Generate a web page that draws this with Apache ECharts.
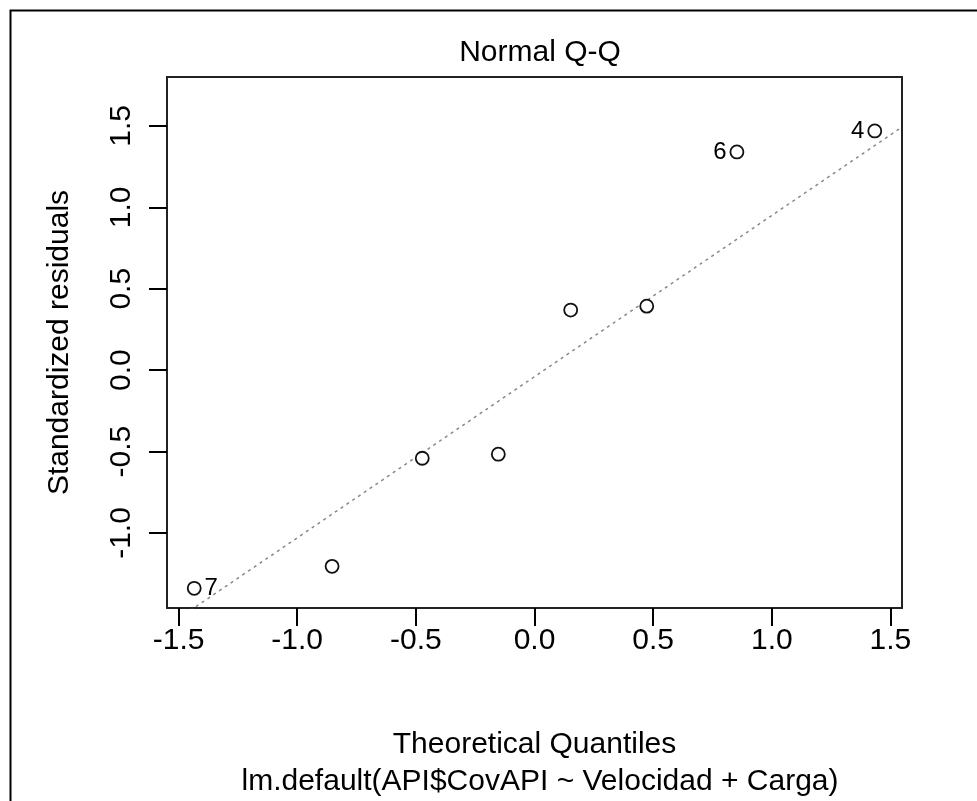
<!DOCTYPE html>
<html>
<head>
<meta charset="utf-8">
<title>Normal Q-Q</title>
<script src="https://cdn.jsdelivr.net/npm/echarts@6/dist/echarts.min.js"></script>
<style>
  html, body { margin: 0; padding: 0; background: #fff; }
  #chart { width: 977px; height: 801px; }
</style>
</head>
<body>
<div id="chart"></div>
<script>
// theoretical quantiles (qnorm(ppoints(8)))
const theoQuantiles = [-1.434, -0.853, -0.473, -0.1525, 0.1525, 0.473, 0.853, 1.434];
// standardized residuals, sorted
const stdResiduals = [-1.340, -1.205, -0.541, -0.516, 0.369, 0.393, 1.340, 1.469];
// observation ids shown next to the extreme points
const pointIds = ['7', '', '', '', '', '', '6', '4'];
// tick labels
const xTicks = [-1.5, -1.0, -0.5, 0.0, 0.5, 1.0, 1.5];
const yTicks = [-1.0, -0.5, 0.0, 0.5, 1.0, 1.5];
// qqline (through the quartiles)
const qqSlope = 0.99;
const qqIntercept = -0.04;

const FONT = '"Liberation Sans", Arial, sans-serif';

// R style axis limits: 4% padding, plot.lm adds 7.5% on top for labels
function rRange(vals, extraTop) {
  let lo = Math.min(...vals), hi = Math.max(...vals);
  hi += (hi - lo) * extraTop;
  const pad = (hi - lo) * 0.04;
  return [lo - pad, hi + pad];
}
const xr = rRange(theoQuantiles, 0);
const yr = rRange(stdResiduals, 0.075);

const points = theoQuantiles.map((x, i) => {
  const p = { value: [x, stdResiduals[i]] };
  if (pointIds[i]) {
    p.label = {
      show: true,
      formatter: pointIds[i],
      position: i === 0 ? 'right' : 'left',
      distance: 3
    };
  }
  return p;
});

const chart = echarts.init(document.getElementById('chart'));

chart.setOption({
  backgroundColor: '#fff',
  animation: false,
  title: [
    {
      text: 'Normal Q-Q',
      left: 535, top: 33, textAlign: 'center',
      textStyle: { fontFamily: FONT, fontWeight: 'normal', fontSize: 30, color: '#000' }
    },
    {
      text: 'lm.default(API$CovAPI ~ Velocidad + Carga)',
      left: 535, top: 762, textAlign: 'center',
      textStyle: { fontFamily: FONT, fontWeight: 'normal', fontSize: 30, color: '#000' }
    }
  ],
  graphic: [
    {
      type: 'rect',
      left: 8, top: 8,
      shape: { width: 1100, height: 1000 },
      style: { fill: 'none', stroke: '#000', lineWidth: 2 },
      silent: true
    }
  ],
  grid: {
    left: 167, right: 75, top: 77, bottom: 193,
    show: true, borderColor: '#222', borderWidth: 2, backgroundColor: 'transparent'
  },
  xAxis: {
    type: 'value',
    min: xr[0], max: xr[1],
    name: 'Theoretical Quantiles',
    nameLocation: 'middle',
    nameGap: 122,
    nameTextStyle: { fontFamily: FONT, fontSize: 30, color: '#000' },
    splitLine: { show: false },
    axisLine: { show: false, onZero: false },
    axisTick: {
      show: true, length: 18, customValues: xTicks,
      lineStyle: { color: '#000', width: 2 }
    },
    axisLabel: {
      customValues: xTicks, margin: 18,
      formatter: v => v.toFixed(1),
      fontFamily: FONT, fontSize: 30, color: '#000'
    }
  },
  yAxis: {
    type: 'value',
    min: yr[0], max: yr[1],
    name: 'Standardized residuals',
    nameLocation: 'middle',
    nameRotate: 90,
    nameGap: 92,
    nameTextStyle: { fontFamily: FONT, fontSize: 30, color: '#000' },
    splitLine: { show: false },
    axisLine: { show: false, onZero: false },
    axisTick: {
      show: true, length: 18, customValues: yTicks,
      lineStyle: { color: '#000', width: 2 }
    },
    axisLabel: {
      customValues: yTicks, margin: 30, rotate: 90,
      formatter: v => v.toFixed(1),
      fontFamily: FONT, fontSize: 30, color: '#000'
    }
  },
  series: [
    {
      type: 'line',
      data: [
        [xr[0], qqIntercept + qqSlope * xr[0]],
        [xr[1], qqIntercept + qqSlope * xr[1]]
      ],
      showSymbol: false,
      clip: true,
      lineStyle: { color: '#888', width: 1.5, type: [3, 4] },
      silent: true,
      z: 1
    },
    {
      type: 'scatter',
      data: points,
      symbol: 'circle',
      symbolSize: 13,
      itemStyle: { color: '#fff', borderColor: '#111', borderWidth: 1.8, opacity: 1 },
      label: { fontFamily: FONT, fontSize: 24, color: '#000' },
      z: 3
    }
  ]
});
</script>
</body>
</html>
